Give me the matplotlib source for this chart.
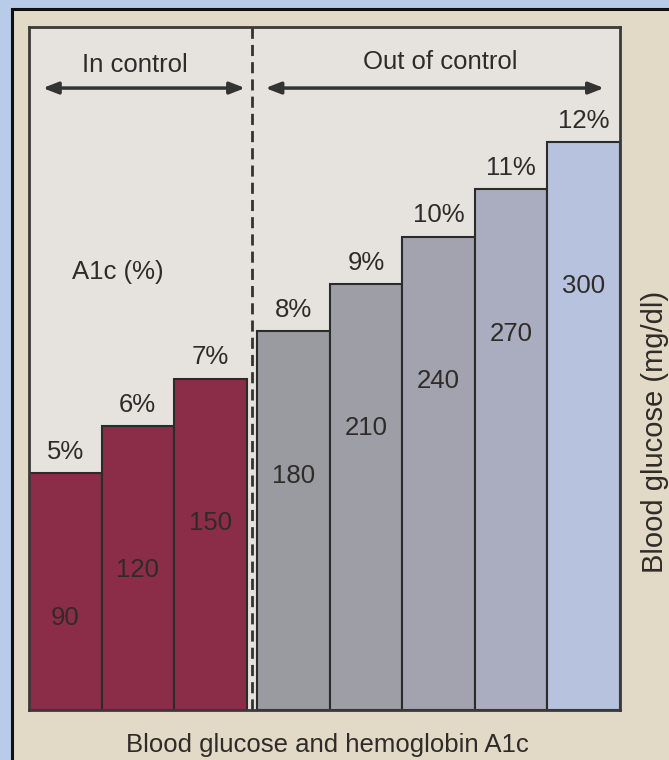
import matplotlib
matplotlib.use('Agg')
import matplotlib.pyplot as plt
from matplotlib.patches import Rectangle

plt.rcParams['font.family'] = ['Liberation Sans', 'DejaVu Sans']

# valores
a1c = [5, 6, 7, 8, 9, 10, 11, 12]
glucose = [90, 120, 150, 180, 210, 240, 270, 300]
in_control = [True, True, True, False, False, False, False, False]
bar_colors = ['#8b2d49', '#8b2d49', '#8b2d49',
              '#9a9aa1', '#9e9ea7', '#a2a3ae', '#a9adbf', '#b7c3de']

gap = 0.15
x = [i + (0 if ok else gap) for i, ok in enumerate(in_control)]
split = sum(in_control) + gap / 2

txt = '#2f2b29'
fs = 18.5

fig = plt.figure(figsize=(6.69, 7.6), dpi=100)
fig.patch.set_facecolor('#b8cbe8')
# papel bege com moldura escura
fig.patches.append(Rectangle((12 / 669, -0.02), 1.0, (760 - 9) / 760 + 0.02,
                             transform=fig.transFigure, facecolor='#e2d9c6',
                             edgecolor='#111111', lw=2.2, zorder=-1))

ax = fig.add_axes([29 / 669, 50 / 760, 591 / 669, 683 / 760])
ax.set_facecolor('#e6e3de')
ax.bar(x, a1c, width=1, align='edge', color=bar_colors,
       edgecolor='#2b2b2b', lw=1.5)
ax.set_xlim(0, len(a1c) + gap)
ax.set_ylim(0, 14.43)
ax.set_xticks([])
ax.set_yticks([])
for s in ax.spines.values():
    s.set_color('#3a3a3a')
    s.set_linewidth(2)

# rotulos das barras
for xi, a, g in zip(x, a1c, glucose):
    ax.text(xi + 0.5, a + 0.2, '{}%'.format(a), ha='center', va='bottom',
            fontsize=fs, color=txt)
    ax.text(xi + 0.5, a - 3.05, str(g), ha='center', va='center',
            fontsize=fs, color=txt)

# linha tracejada separando os grupos
ax.axvline(split, color='#333333', lw=2, linestyle=(0, (4, 2.2)))

# setas
arrow = dict(arrowstyle='<|-|>,head_length=0.9,head_width=0.35',
             color='#333333', lw=2.5, shrinkA=0, shrinkB=0)
ax.annotate('', xy=(0.19, 13.14), xytext=(2.98, 13.14), arrowprops=arrow)
ax.annotate('', xy=(3.26, 13.14), xytext=(7.93, 13.14), arrowprops=arrow)
ax.text(1.46, 13.63, 'In control', ha='center', va='center',
        fontsize=fs, color=txt)
ax.text(5.67, 13.69, 'Out of control', ha='center', va='center',
        fontsize=fs, color=txt)
ax.text(1.22, 9.25, 'A1c (%)', ha='center', va='center',
        fontsize=fs, color=txt)

fig.text(655 / 669, 1 - 432 / 760, 'Blood glucose (mg/dl)', rotation=90,
         ha='center', va='center', fontsize=21, color=txt)
fig.text(327 / 669, 1 - 745 / 760, 'Blood glucose and hemoglobin A1c',
         ha='center', va='center', fontsize=fs, color=txt)

plt.savefig('out.png', dpi=100, facecolor=fig.get_facecolor())
